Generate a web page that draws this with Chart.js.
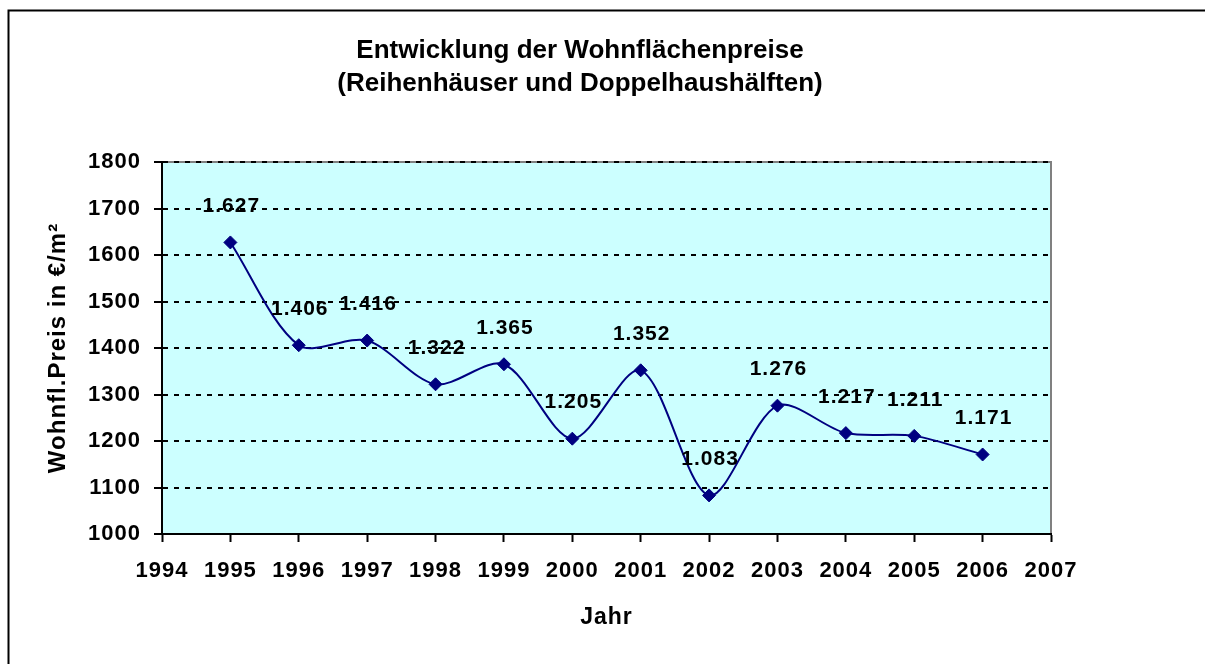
<!DOCTYPE html>
<html>
<head>
<meta charset="utf-8">
<script src="https://cdn.jsdelivr.net/npm/chart.js@4"></script>
<style>
  html, body { margin: 0; padding: 0; background: #fff; }
  #wrap { width: 1205px; height: 664px; }
</style>
</head>
<body>
<div id="wrap"><canvas id="preisChart" width="1205" height="664"></canvas></div>
<script>
// data
const jahre = [1995, 1996, 1997, 1998, 1999, 2000, 2001, 2002, 2003, 2004, 2005, 2006];
const preise = [1627, 1406, 1416, 1322, 1365, 1205, 1352, 1083, 1276, 1217, 1211, 1171];
const titelZeilen = ['Entwicklung der Wohnflächenpreise', '(Reihenhäuser und Doppelhaushälften)'];
const yTitel = 'Wohnfl.Preis in €/m²';
const xTitel = 'Jahr';

Chart.defaults.font.family = "'Liberation Sans', Arial, sans-serif";
Chart.defaults.color = '#000';

// german thousands separator, 1627 -> 1.627
function deZahl(v) {
    return Math.floor(v / 1000) + '.' + String(v % 1000).padStart(3, '0');
}

const punkte = jahre.map((j, i) => ({ x: j, y: preise[i] }));

// background, plot frame, outer border and the two title lines
const rahmenPlugin = {
    id: 'rahmen',
    beforeUpdate(chart) { chart.ctx.letterSpacing = '1px'; },
    beforeDraw(chart) {
        const ctx = chart.ctx;
        const a = chart.chartArea;
        ctx.letterSpacing = '1px';
        ctx.save();
        ctx.fillStyle = '#CCFFFF';
        ctx.fillRect(a.left, a.top, a.right - a.left, a.bottom - a.top);
        ctx.strokeStyle = '#808080';
        ctx.lineWidth = 2;
        ctx.beginPath();
        ctx.moveTo(a.left, a.top);
        ctx.lineTo(a.right, a.top);
        ctx.lineTo(a.right, a.bottom);
        ctx.stroke();
        ctx.strokeStyle = '#000';
        ctx.lineWidth = 2;
        ctx.strokeRect(8.5, 10.5, chart.width + 20, chart.height + 20);

        ctx.letterSpacing = '0px';
        ctx.font = 'bold 26px "Liberation Sans", Arial, sans-serif';
        ctx.fillStyle = '#000';
        ctx.textAlign = 'center';
        ctx.textBaseline = 'middle';
        titelZeilen.forEach((z, i) => ctx.fillText(z, 580, 51 + i * 33));
        ctx.restore();
    }
};

// value labels above each point
const wertePlugin = {
    id: 'werte',
    afterDatasetsDraw(chart) {
        const ctx = chart.ctx;
        const meta = chart.getDatasetMeta(0);
        ctx.save();
        ctx.font = 'bold 21px "Liberation Sans", Arial, sans-serif';
        ctx.fillStyle = '#000';
        ctx.textAlign = 'center';
        ctx.textBaseline = 'middle';
        meta.data.forEach((pt, i) => {
            ctx.fillText(deZahl(preise[i]), pt.x + 1, pt.y - 36);
        });
        ctx.restore();
    }
};

const ctx = document.getElementById('preisChart');
const preisChart = new Chart(ctx, {
    type: 'line',
    data: {
        datasets: [{
            label: 'Preis',
            data: punkte,
            borderColor: '#000080',
            borderWidth: 2,
            backgroundColor: '#000080',
            pointStyle: 'rectRot',
            pointRadius: 6.5,
            pointBorderWidth: 1,
            pointBackgroundColor: '#000080',
            pointBorderColor: '#000080',
            tension: 0.3,
            fill: false
        }]
    },
    options: {
        responsive: false,
        animation: false,
        layout: {
            padding: { left: 20, right: 154, top: 162, bottom: 0 }
        },
        scales: {
            x: {
                type: 'linear',
                min: 1994,
                max: 2007,
                afterFit(scale) { scale.height = 130; },
                ticks: {
                    stepSize: 1,
                    padding: 16,
                    font: { size: 22, weight: 'bold' },
                    callback: v => String(v)
                },
                grid: {
                    drawOnChartArea: false,
                    tickLength: 8,
                    tickColor: '#000',
                    tickWidth: 2
                },
                border: { display: true, color: '#000', width: 2 },
                title: {
                    display: true,
                    text: xTitel,
                    font: { size: 23, weight: 'bold' },
                    padding: { top: 0, bottom: 33 }
                }
            },
            y: {
                min: 1000,
                max: 1800,
                afterFit(scale) { scale.width = 142; },
                ticks: {
                    stepSize: 100,
                    padding: 13,
                    font: { size: 22, weight: 'bold' },
                    callback: v => String(v)
                },
                grid: {
                    color: '#000',
                    lineWidth: 2,
                    tickLength: 8,
                    tickColor: '#000',
                    tickWidth: 2
                },
                border: { display: true, color: '#000', width: 2, dash: [5, 6] },
                title: {
                    display: true,
                    text: yTitel,
                    font: { size: 24, weight: 'bold' },
                    padding: { top: 24, bottom: 0 }
                }
            }
        },
        plugins: {
            legend: { display: false },
            tooltip: { enabled: false },
            title: { display: false }
        }
    },
    plugins: [rahmenPlugin, wertePlugin]
});
</script>
</body>
</html>
